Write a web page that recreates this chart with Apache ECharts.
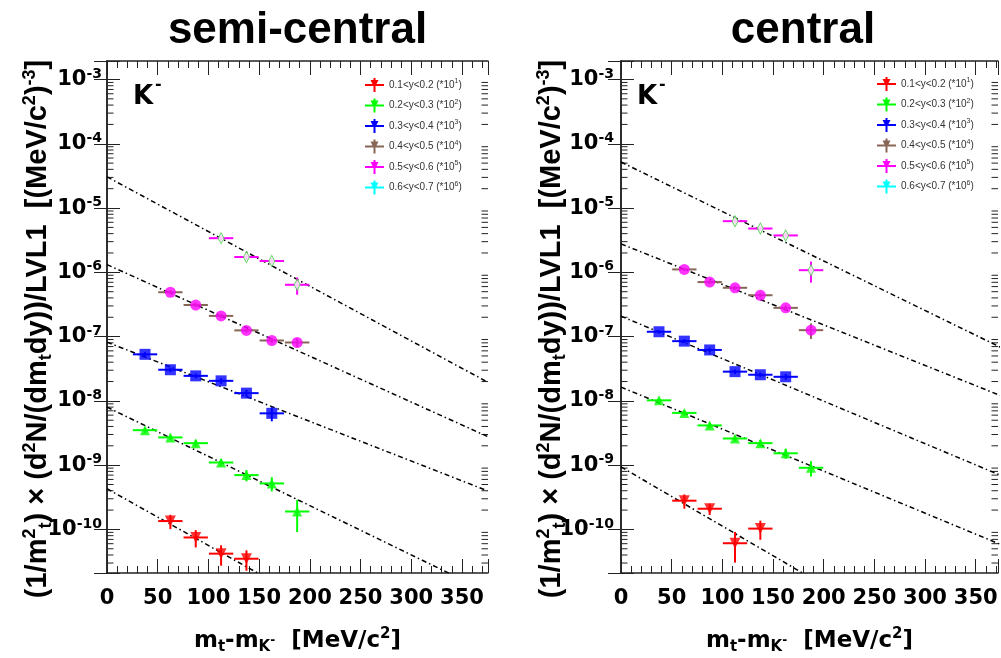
<!DOCTYPE html>
<html><head><meta charset="utf-8">
<script src="https://cdn.jsdelivr.net/npm/echarts@6.0.0/dist/echarts.min.js"></script>
<style>html,body{margin:0;padding:0;background:#fff}#c{width:1001px;height:658px}</style>
</head><body><div id="c"></div>
<script>
// ---------------- data ----------------
const yMin = 2.1e-11, yMax = 1.94e-3;
const xMaxSemi = 375.7, xMaxCent = 372;
const xHalfBin = 12;

const legendNames = ['0.1<y<0.2 (*10^1)', '0.2<y<0.3 (*10^2)', '0.3<y<0.4 (*10^3)',
                     '0.4<y<0.5 (*10^4)', '0.5<y<0.6 (*10^5)', '0.6<y<0.7 (*10^6)'];
const legendColors = ['#ff0000', '#00ff00', '#0000ff', '#876656', '#ff00ff', '#00ffff'];

// semi-central
const semiX1 = [62.5, 87.5, 112.5, 137.5];
const semiY1 = [1.35e-10, 7.5e-11, 4.2e-11, 3.5e-11];
const semiE1 = [0.25, 0.3, 0.35, 0.35];
const semiX2 = [37.5, 62.5, 87.5, 112.5, 137.5, 162.5, 187.5];
const semiY2 = [3.5e-9, 2.7e-9, 2.2e-9, 1.1e-9, 7.0e-10, 5.2e-10, 1.9e-10];
const semiE2 = [0.1, 0.1, 0.12, 0.12, 0.2, 0.25, 0.52];
const semiX3 = [37.5, 62.5, 87.5, 112.5, 137.5, 162.5];
const semiY3 = [5.3e-8, 3.05e-8, 2.45e-8, 2.05e-8, 1.32e-8, 6.4e-9];
const semiE3 = [0.08, 0.08, 0.08, 0.1, 0.12, 0.25];
const semiX4 = [62.5, 87.5, 112.5, 137.5, 162.5, 187.5];
const semiY4 = [4.9e-7, 3.1e-7, 2.1e-7, 1.25e-7, 8.7e-8, 8.1e-8];
const semiE4 = [0.07, 0.07, 0.08, 0.08, 0.1, 0.15];
const semiX5 = [112.5, 137.5, 162.5, 187.5];
const semiY5 = [3.4e-6, 1.73e-6, 1.5e-6, 6.4e-7];
const semiE5 = [0.1, 0.1, 0.1, 0.3];
const semiFit1 = [[0, 4.3e-10], [375, 2.1e-13]];
const semiFit2 = [[0, 8.0e-9], [375, 1.07e-11]];
const semiFit3 = [[0, 8.2e-8], [375, 4.0e-10]];
const semiFit4 = [[0, 1.32e-6], [375, 2.8e-9]];
const semiFit5 = [[0, 3.06e-5], [375, 1.97e-8]];

// central
const centX1 = [62.5, 87.5, 112.5, 137.5];
const centY1 = [2.8e-10, 2.1e-10, 6.1e-11, 1.03e-10];
const centE1 = [0.25, 0.2, 0.5, 0.33];
const centX2 = [37.5, 62.5, 87.5, 112.5, 137.5, 162.5, 187.5];
const centY2 = [1.02e-8, 6.5e-9, 4.15e-9, 2.6e-9, 2.2e-9, 1.53e-9, 9.1e-10];
const centE2 = [0.08, 0.1, 0.1, 0.1, 0.12, 0.18, 0.27];
const centX3 = [37.5, 62.5, 87.5, 112.5, 137.5, 162.5];
const centY3 = [1.19e-7, 8.5e-8, 6.2e-8, 2.85e-8, 2.55e-8, 2.37e-8];
const centE3 = [0.06, 0.07, 0.08, 0.08, 0.08, 0.1];
const centX4 = [62.5, 87.5, 112.5, 137.5, 162.5, 187.5];
const centY4 = [1.11e-6, 7.05e-7, 5.75e-7, 4.4e-7, 2.8e-7, 1.26e-7];
const centE4 = [0.06, 0.07, 0.07, 0.08, 0.1, 0.27];
const centX5 = [112.5, 137.5, 162.5, 187.5];
const centY5 = [6.25e-6, 4.8e-6, 3.75e-6, 1.08e-6];
const centE5 = [0.08, 0.08, 0.1, 0.36];
const centFit1 = [[0, 9.4e-10], [375, 3.3e-13]];
const centFit2 = [[0, 1.64e-8], [375, 5.8e-11]];
const centFit3 = [[0, 2.08e-7], [375, 6.9e-10]];
const centFit4 = [[0, 2.77e-6], [375, 1.2e-8]];
const centFit5 = [[0, 5.2e-5], [375, 6.75e-8]];

// axis decoration: log minor tick multipliers and decades
const logMinorSteps = [2, 3, 4, 5, 6, 7, 8, 9];
const logDecades = [-11, -10, -9, -8, -7, -6, -5, -4, -3];

// ---------------- styles ----------------
const FRAME = '#222';
const boldW = 'bold';
const markerDefs = [
  {symbol: 'triangle', symbolRotate: 180, symbolSize: 11, itemStyle: {color: '#ff0000'}},
  {symbol: 'triangle', symbolSize: 10, itemStyle: {color: '#00ff00'}},
  {symbol: 'rect', symbolSize: 11, itemStyle: {color: '#0000ff'}},
  {symbol: 'circle', symbolSize: 11, itemStyle: {color: '#ff00ff'}},
  {symbol: 'diamond', symbolSize: [6, 11], itemStyle: {color: '#ffffff', borderColor: '#44cc44', borderWidth: 1}}
];

const minorVals = [];
logDecades.forEach(d => logMinorSteps.forEach(s => minorVals.push([1, s * Math.pow(10, d)])));

function minorTickItem(params, api) {
  const cs = params.coordSys;
  const p = api.coord([1, api.value(1)]);
  const y = p[1];
  if (y < cs.y + 0.5 || y > cs.y + cs.height - 0.5) return null;
  const st = {stroke: FRAME, lineWidth: 1};
  return {type: 'group', children: [
    {type: 'line', shape: {x1: cs.x, y1: y, x2: cs.x + 6.5, y2: y}, style: st},
    {type: 'line', shape: {x1: cs.x + cs.width - 6.5, y1: y, x2: cs.x + cs.width, y2: y}, style: st}
  ]};
}
function errorBarItem(color) {
  return function (params, api) {
    const x = api.value(0), y = api.value(1), xe = api.value(2), lo = api.value(3), hi = api.value(4);
    const a = api.coord([x - xe, y]), b = api.coord([x + xe, y]);
    const c = api.coord([x, lo]), d = api.coord([x, hi]);
    const st = {stroke: color, lineWidth: 2};
    return {type: 'group', children: [
      {type: 'line', shape: {x1: a[0], y1: a[1], x2: b[0], y2: b[1]}, style: st},
      {type: 'line', shape: {x1: c[0], y1: c[1], x2: d[0], y2: d[1]}, style: st}
    ]};
  };
}

const baseFont = {fontFamily: 'DejaVu Sans', fontWeight: boldW, color: '#000'};
const xNameRich = {
  b: Object.assign({fontSize: 23, lineHeight: 28}, baseFont),
  sub: Object.assign({fontSize: 15, lineHeight: 15, verticalAlign: 'bottom'}, baseFont),
  ss: Object.assign({fontSize: 12, lineHeight: 12, verticalAlign: 'middle'}, baseFont),
  sup: Object.assign({fontSize: 15, lineHeight: 15, verticalAlign: 'top'}, baseFont)
};
const yFont = {fontFamily: 'Liberation Sans', fontWeight: boldW, color: '#000'};
const yNameRich = {
  b: Object.assign({fontSize: 29, lineHeight: 34}, yFont),
  sub: Object.assign({fontSize: 18, lineHeight: 18, verticalAlign: 'bottom'}, yFont),
  sup: Object.assign({fontSize: 18, lineHeight: 18, verticalAlign: 'top'}, yFont)
};
const yLabelRich = {
  b: Object.assign({fontSize: 21, lineHeight: 25}, baseFont),
  s: Object.assign({fontSize: 14, lineHeight: 14, verticalAlign: 'top'}, baseFont)
};

function yLabelFmt(v) {
  const e = Math.log10(v);
  if (Math.abs(e - Math.round(e)) > 1e-6) return '';
  return '{b|10}{s|' + Math.round(e) + '}';
}
function xLabelFmt(v) {
  return Math.abs(v / 50 - Math.round(v / 50)) < 1e-6 ? String(Math.round(v)) : '';
}

function makeXAxes(gi, xMax) {
  const base = {type: 'value', gridIndex: gi, min: 0, max: xMax, splitLine: {show: false},
                axisLabel: {show: false}, axisLine: {show: false}, minorTick: {show: false}};
  const tick = (len) => ({show: true, inside: true, length: len, lineStyle: {color: FRAME, width: 1}});
  return [
    Object.assign({}, base, {position: 'bottom', interval: 50,
      axisLine: {show: true, lineStyle: {color: FRAME, width: 1.5}},
      axisTick: tick(14),
      axisLabel: Object.assign({show: true, margin: 15, fontSize: 21, formatter: xLabelFmt}, baseFont),
      name: '{b|m}{sub|t}{b|-m}{sub|K}{ss|-}{b|  [MeV/c}{sup|2}{b|]}',
      nameLocation: 'middle', nameGap: 54, nameMoveOverlap: false,
      nameTextStyle: {rich: xNameRich}}),
    Object.assign({}, base, {position: 'bottom', interval: 10, axisTick: tick(7)}),
    Object.assign({}, base, {position: 'top', interval: 50,
      axisLine: {show: true, lineStyle: {color: FRAME, width: 1.5}}, axisTick: tick(14)}),
    Object.assign({}, base, {position: 'top', interval: 10, axisTick: tick(7)})
  ];
}
function makeYAxes(gi, margin) {
  const base = {type: 'log', logBase: 10, gridIndex: gi, min: yMin, max: yMax, splitLine: {show: false},
                minorTick: {show: false}, axisLine: {show: true, lineStyle: {color: FRAME, width: 1.5}},
                axisTick: {show: true, inside: true, length: 13, lineStyle: {color: FRAME, width: 1}}};
  return [
    Object.assign({}, base, {position: 'left',
      axisLabel: {show: true, margin: margin, formatter: yLabelFmt, rich: yLabelRich},
      name: '{b|(1/m}{sup|2}{sub|t}{b|) × (d}{sup|2}{b|N/(dm}{sub|t}{b|dy))/LVL1  [(MeV/c}{sup|2}{b|)}{sup|-3}{b|]}',
      nameLocation: 'middle', nameRotate: 90, nameGap: 52, nameMoveOverlap: false,
      nameTextStyle: {rich: yNameRich, padding: [0, 24, 0, 0]}}),
    Object.assign({}, base, {position: 'right', axisLabel: {show: false}})
  ];
}

function panelSeries(gi, xs, ys, es, fits) {
  const xAxisIndex = gi * 4, yAxisIndex = gi * 2;
  const out = [];
  out.push({type: 'custom', xAxisIndex, yAxisIndex, silent: true, clip: false, z: 1,
            renderItem: minorTickItem, data: minorVals, encode: {x: 0, y: 1}});
  fits.forEach(f => out.push({type: 'line', xAxisIndex, yAxisIndex, data: f, symbol: 'none',
    showSymbol: false, clip: true, silent: true, z: 2,
    lineStyle: {color: '#000', width: 1.5, type: [5, 3, 1.5, 3]}}));
  xs.forEach((xArr, i) => {
    const eb = xArr.map((x, j) => [x, ys[i][j], xHalfBin, ys[i][j] * (1 - es[i][j]), ys[i][j] * (1 + es[i][j])]);
    out.push({type: 'custom', name: legendNames[i], xAxisIndex, yAxisIndex, z: 3, clip: true,
              renderItem: errorBarItem(legendColors[i]), data: eb, encode: {x: 0, y: 1},
              itemStyle: {color: legendColors[i]}});
    out.push(Object.assign({type: 'scatter', name: 'marker' + gi + '_' + i, xAxisIndex, yAxisIndex, z: 4,
              data: xArr.map((x, j) => [x, ys[i][j]])}, markerDefs[i]));
  });
  out.push({type: 'custom', name: legendNames[5], xAxisIndex, yAxisIndex, renderItem: () => null,
            data: [], itemStyle: {color: legendColors[5]}});
  return out;
}

const legendIcon = 'path://M0 6H19V8H0Z M8.5 0H10.5V14H8.5Z M5.5 2L13.5 2L9.5 10Z';
function mkLegend(left, top) {
  return {left: left, top: top, orient: 'vertical', padding: 0, itemWidth: 19, itemHeight: 14,
    itemGap: 6.5, selectedMode: false,
    data: legendNames.map((n, i) => ({name: n, icon: legendIcon, itemStyle: {color: legendColors[i]}})),
    formatter: function (n) {
      const m = n.match(/^(.*)\^(\d)\)$/);
      return '{t|' + m[1] + '}{s|' + m[2] + '}{t|)}';
    },
    textStyle: {rich: {
      t: {fontFamily: 'Liberation Sans', fontSize: 10, color: '#333', lineHeight: 14},
      s: {fontFamily: 'Liberation Sans', fontSize: 7, color: '#333', lineHeight: 8, verticalAlign: 'top'}
    }}};
}

function txt(x, y, text, font, align) {
  return {type: 'text', x: x, y: y, silent: true,
    style: {text: text, font: font, fill: '#000', align: align, verticalAlign: 'middle',
            textAlign: align, textVerticalAlign: 'middle'}};
}

const option = {
  animation: false,
  backgroundColor: '#fff',
  grid: [
    {left: 107, top: 61, width: 381, height: 512, containLabel: false, outerBoundsMode: 'none'},
    {left: 621, top: 61, width: 377, height: 512, containLabel: false, outerBoundsMode: 'none'}
  ],
  xAxis: makeXAxes(0, xMaxSemi).concat(makeXAxes(1, xMaxCent)),
  yAxis: makeYAxes(0, 5).concat(makeYAxes(1, 7)),
  legend: [mkLegend(365, 78), mkLegend(877, 77)],
  graphic: [
    txt(297.5, 31, 'semi-central', 'bold 44px "Liberation Sans"', 'center'),
    txt(803, 31, 'central', 'bold 44px "Liberation Sans"', 'center'),
    txt(133, 97, 'K', 'bold 26px "DejaVu Sans"', 'left'),
    txt(155, 85, '-', 'bold 16px "DejaVu Sans"', 'left'),
    txt(637, 97, 'K', 'bold 26px "DejaVu Sans"', 'left'),
    txt(659, 85, '-', 'bold 16px "DejaVu Sans"', 'left')
  ],
  series: panelSeries(0, [semiX1, semiX2, semiX3, semiX4, semiX5], [semiY1, semiY2, semiY3, semiY4, semiY5],
                      [semiE1, semiE2, semiE3, semiE4, semiE5], [semiFit1, semiFit2, semiFit3, semiFit4, semiFit5])
    .concat(panelSeries(1, [centX1, centX2, centX3, centX4, centX5], [centY1, centY2, centY3, centY4, centY5],
                      [centE1, centE2, centE3, centE4, centE5], [centFit1, centFit2, centFit3, centFit4, centFit5]))
};

const chart = echarts.init(document.getElementById('c'), null, {renderer: 'canvas'});
chart.setOption(option);
</script></body></html>
